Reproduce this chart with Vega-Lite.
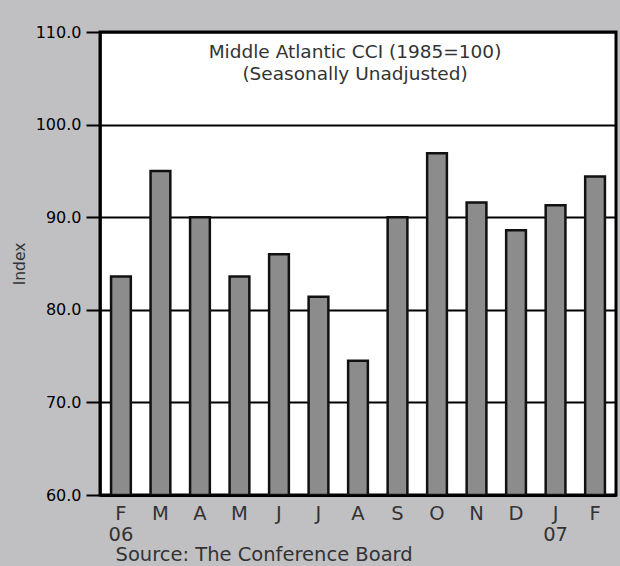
{
  "$schema": "https://vega.github.io/schema/vega-lite/v6.json",
  "autosize": "none",
  "width": 516,
  "height": 463,
  "padding": {"left": 100, "top": 32, "right": 4, "bottom": 71},
  "background": "#c0c0c3",
  "config": {
    "font": "DejaVu Sans",
    "view": {"fill": "white", "stroke": "#000", "strokeWidth": 3}
  },
  "data": {
    "values": [
      {"period": "Feb 06", "index": 83.6},
      {"period": "Mar 06", "index": 95.0},
      {"period": "Apr 06", "index": 90.0},
      {"period": "May 06", "index": 83.6},
      {"period": "Jun 06", "index": 86.0},
      {"period": "Jul 06", "index": 81.4},
      {"period": "Aug 06", "index": 74.5},
      {"period": "Sep 06", "index": 90.0},
      {"period": "Oct 06", "index": 96.9},
      {"period": "Nov 06", "index": 91.6},
      {"period": "Dec 06", "index": 88.6},
      {"period": "Jan 07", "index": 91.3},
      {"period": "Feb 07", "index": 94.4}
    ]
  },
  "encoding": {
    "x": {
      "field": "period",
      "type": "ordinal",
      "sort": null,
      "scale": {"paddingInner": 0.5, "paddingOuter": 0.28},
      "axis": {
        "labelExpr": "(datum.value == 'Feb 06' || datum.value == 'Jan 07') ? [substring(datum.value, 0, 1), substring(datum.value, 4, 6)] : substring(datum.value, 0, 1)",
        "labelAngle": 0,
        "labelFontSize": 19.5,
        "labelColor": "#333333",
        "labelBaseline": "top",
        "labelLineHeight": 21,
        "labelPadding": 9,
        "ticks": false,
        "tickSize": 0,
        "domainColor": "#000000",
        "domainWidth": 3,
        "grid": false,
        "title": "Source: The Conference Board",
        "titleFontSize": 19.5,
        "titleFontWeight": "normal",
        "titleColor": "#333333",
        "titleAnchor": "start",
        "titleAlign": "left",
        "titleBaseline": "alphabetic",
        "titleX": 15,
        "titleY": 65
      }
    }
  },
  "layer": [
    {
      "mark": {"type": "bar", "fill": "#8c8c8c", "stroke": "#111111", "strokeWidth": 2.5, "clip": true},
      "encoding": {
        "y": {
          "field": "index",
          "type": "quantitative",
          "scale": {"domain": [60, 110], "nice": false, "zero": false},
          "axis": {
            "values": [60, 70, 80, 90, 100, 110],
            "format": ".1f",
            "labelFontSize": 16,
            "labelColor": "#000000",
            "labelPadding": 5,
            "tickSize": 14,
            "tickWidth": 2,
            "tickColor": "#000000",
            "domainColor": "#000000",
            "domainWidth": 2.5,
            "grid": true,
            "gridColor": "#000000",
            "gridWidth": 2,
            "gridOpacity": 1,
            "title": "Index",
            "titleFontSize": 15.5,
            "titleFontWeight": "normal",
            "titleColor": "#333333",
            "titlePadding": 8
          }
        },
        "y2": {"datum": 60}
      }
    },
    {
      "transform": [{"aggregate": [{"op": "count", "as": "n"}]}],
      "mark": {
        "type": "text",
        "baseline": "top",
        "align": "center",
        "fontSize": 18.5,
        "fontWeight": "normal",
        "fill": "#333333",
        "lineHeight": 22,
        "dx": -3
      },
      "encoding": {
        "x": null,
        "y": {"datum": 108.84, "type": "quantitative"},
        "text": {"value": ["Middle Atlantic CCI (1985=100)", "(Seasonally Unadjusted)"]}
      }
    }
  ]
}
